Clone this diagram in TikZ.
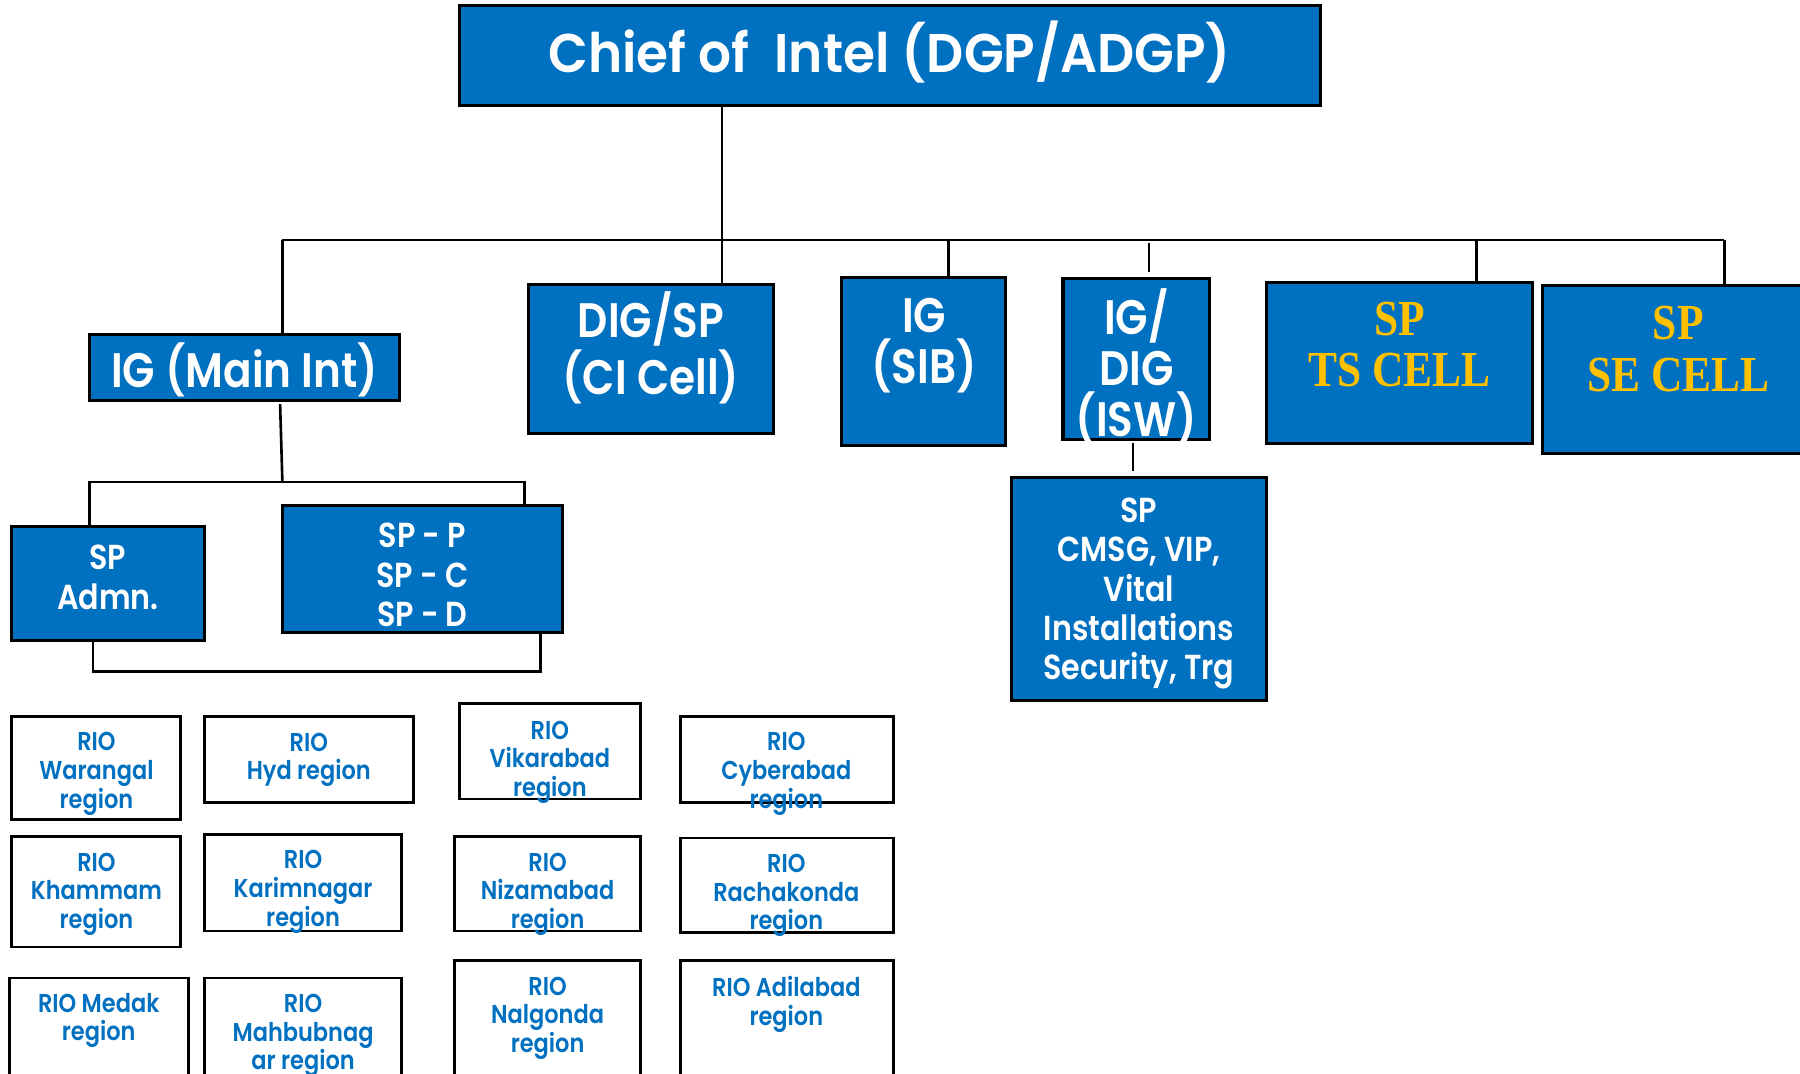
\documentclass[tikz,border=0pt]{standalone}
\usepackage{fontspec}
\setmainfont{Poppins}
\newfontfamily\cgfont{Poppins SemiBold}[FakeStretch=0.87]
\newfontfamily\cgwide{Poppins SemiBold}[FakeStretch=0.95]
\newfontfamily\goldfont{Liberation Serif}[FakeStretch=0.86]
\usetikzlibrary{fit}
\definecolor{boxblue}{HTML}{0070C0}
\definecolor{goldtxt}{HTML}{FFC000}
\begin{document}
\begin{tikzpicture}[x=0.01cm, y=-0.01cm,
  bluebox/.style={draw=black, line width=0.75pt, fill=boxblue, inner sep=0pt},
  riobox/.style={draw=black, line width=0.7pt, fill=white, inner sep=0pt},
  conn/.style={draw=black, line width=0.65pt},
  tone/.style={text=white, align=center, inner sep=0pt, font=\cgwide\fontsize{13.5}{14}\selectfont},
  ttwo/.style={text=white, align=center, inner sep=0pt, font=\cgfont\fontsize{12}{12.6}\selectfont},
  tthree/.style={text=white, align=center, inner sep=0pt, font=\cgfont\fontsize{8.6}{9.75}\selectfont},
  gtxt/.style={text=goldtxt, align=center, inner sep=0pt, font=\goldfont\bfseries\fontsize{12.5}{12.8}\selectfont},
  riotxt/.style={text=boxblue, align=center, inner sep=0pt, font=\cgfont\fontsize{6.4}{7.1}\selectfont}]
\useasboundingbox (0,0) rectangle (1568,935);
\clip (0,0) rectangle (1568,935);
% top level
\node[bluebox, fit={(400,5)(1150,92)}] (chief) {};
\node[tone] (chiefT) at (775,45) {Chief of\ \ Intel (DGP/ADGP)};
% second level
\node[bluebox, fit={(78,291)(348,349)}] (igmain) {};
\node[ttwo] (igmainT) at (213,322) {IG (Main Int)};
\node[bluebox, fit={(460,248)(674,378)}] (dig) {};
\node[ttwo] (digT) at (567,303) {DIG/SP\\(CI Cell)};
\node[bluebox, fit={(733,242)(876,388)}] (sib) {};
\node[ttwo] (sibT) at (805,301) {IG\\(SIB)};
\node[bluebox, fit={(926,243)(1054,383)}] (isw) {};
\node[ttwo] (iswT) at (990,320) {IG/\\DIG\\(ISW)};
\node[bluebox, fit={(1103,246)(1335,386)}] (ts) {};
\node[gtxt] (tsT) at (1219,300) {SP\\TS CELL};
\node[bluebox, fit={(1344,249)(1590,395)}] (se) {};
\node[gtxt] (seT) at (1462,304) {SP\\SE CELL};
% third level
\node[bluebox, fit={(881,416)(1103,610)}] (cmsg) {};
\node[tthree] (cmsgT) at (992,517) {SP\\CMSG, VIP,\\Vital\\Installations\\Security, Trg};
\node[bluebox, fit={(10,459)(178,558)}] (admn) {};
\node[tthree] (admnT) at (94,503) {SP\\Admn.};
\node[bluebox, fit={(246,440)(490,551)}] (spp) {};
\node[tthree] (sppT) at (368,501) {SP\ -\ P\\SP\ -\ C\\SP\ -\ D};
% RIO boxes
\node[riobox, fit={(10,624)(157,714)}] (war) {};
\node[riotxt] (warT) at (84,674) {RIO\\Warangal\\region};
\node[riobox, fit={(10,729)(157,825)}] (kha) {};
\node[riotxt] (khaT) at (84,779) {RIO\\Khammam\\region};
\node[riobox, fit={(8,852)(164,950)}] (med) {};
\node[riotxt] (medT) at (86,889) {RIO Medak\\region};
\node[riobox, fit={(178,624)(360,699)}] (hyd) {};
\node[riotxt] (hydT) at (269,662) {RIO\\Hyd region};
\node[riobox, fit={(178,727)(350,811)}] (kar) {};
\node[riotxt] (karT) at (264,777) {RIO\\Karimnagar\\region};
\node[riobox, fit={(178,852)(350,950)}] (mah) {};
\node[riotxt] (mahT) at (264,902) {RIO\\Mahbubnag\\ar region};
\node[riobox, fit={(400,613)(558,696)}] (vik) {};
\node[riotxt] (vikT) at (479,664) {RIO\\Vikarabad\\region};
\node[riobox, fit={(396,729)(558,811)}] (niz) {};
\node[riotxt] (nizT) at (477,779) {RIO\\Nizamabad\\region};
\node[riobox, fit={(396,837)(558,950)}] (nal) {};
\node[riotxt] (nalT) at (477,887) {RIO\\Nalgonda\\region};
\node[riobox, fit={(593,624)(778,699)}] (cyb) {};
\node[riotxt] (cybT) at (685,674) {RIO\\Cyberabad\\region};
\node[riobox, fit={(593,730)(778,812)}] (rac) {};
\node[riotxt] (racT) at (685,780) {RIO\\Rachakonda\\region};
\node[riobox, fit={(593,837)(778,950)}] (adi) {};
\node[riotxt] (adiT) at (685,875) {RIO Adilabad\\region};
% connectors
\coordinate (busL) at (246,209);
\coordinate (busR) at (1502,209);
\coordinate (trunk) at (629,209);
\coordinate (b3) at (826,209);
\coordinate (b4) at (1001,212);
\coordinate (b4e) at (1001,237);
\coordinate (b5) at (1286,209);
\coordinate (c5) at (987,386);
\coordinate (c5e) at (987,410);
\draw[conn] (busL) -- (busR);
\draw[conn] (chief.south -| trunk) -- (dig.north -| trunk);
\draw[conn] (busL) -- (igmain.north -| busL);
\draw[conn] (b3) -- (sib.north -| b3);
\draw[conn] (b4) -- (b4e);
\draw[conn] (b5) -- (ts.north -| b5);
\draw[conn] (busR) -- (se.north -| busR);
\draw[conn] (c5) -- (c5e);
% IG main subtree
\coordinate (m1) at (244,352);
\coordinate (m2) at (246,420);
\coordinate (bl) at (78,420);
\coordinate (br) at (457,420);
\draw[conn] (m1) -- (m2);
\draw[conn] (admn.north -| bl) -- (bl) -- (br) -- (spp.north -| br);
\coordinate (q1) at (81,585);
\coordinate (q2) at (471,585);
\draw[conn] (admn.south -| q1) -- (q1) -- (q2) -- (spp.south -| q2);
\end{tikzpicture}
\end{document}
